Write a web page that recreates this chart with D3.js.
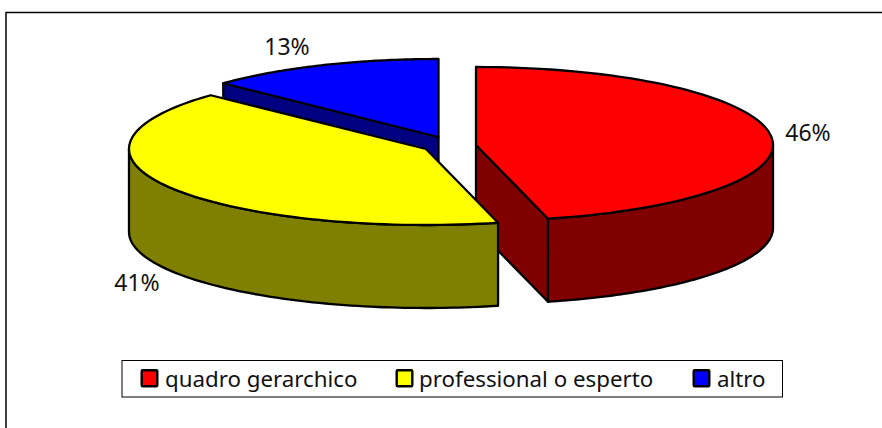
<!DOCTYPE html>
<html>
<head>
<meta charset="utf-8">
<script src="https://cdn.jsdelivr.net/npm/d3@7"></script>
<style>
html, body { margin: 0; padding: 0; background: #fff; }
svg { display: block; }
text { font-family: "Noto Sans", sans-serif; fill: #111; }
</style>
</head>
<body>
<svg width="882" height="428"></svg>
<script>
var categories = ["quadro gerarchico", "professional o esperto", "altro"];
var values = [46.1, 41, 12.9];
var labels = ["46%", "41%", "13%"];
var topColors = ["#ff0000", "#ffff00", "#0000ff"];
var sideColors = ["#800000", "#808000", "#000080"];

var svg = d3.select("svg");

var rx = 297, ryBack = 78, ryFront = 76, depth = 83;
var centers = [[476, 145], [426, 149], [438.5, 137]];
var labelPos = [[808, 141], [137, 291], [287, 55]];
var swatchX = [141.7, 396.7, 693.7], textX = [165, 419, 717];
var drawOrder = [2, 0, 1];

var pie = d3.pie().sort(null)(values);

// the ellipse is a bit flatter in front than behind, like the perspective of the original
function px(i, a) { return centers[i][0] + rx * Math.sin(a); }
function py(i, a) { var c = Math.cos(a); return centers[i][1] - (c > 0 ? ryBack : ryFront) * c; }

function arcPoints(i, a0, a1, dy) {
    var pts = [], n = 80;
    for (var k = 0; k <= n; k++) {
        var a = a0 + (a1 - a0) * k / n;
        pts.push([px(i, a), py(i, a) + dy]);
    }
    return pts;
}

var line = d3.line();

function face(g, d, fill) {
    g.append("path")
        .attr("d", d + "Z")
        .attr("fill", fill)
        .attr("stroke", "#000")
        .attr("stroke-width", 2.3)
        .attr("stroke-linejoin", "round");
}

svg.append("rect")
    .attr("x", 6).attr("y", 12.5)
    .attr("width", 890).attr("height", 430)
    .attr("fill", "#fff").attr("stroke", "#000").attr("stroke-width", 1.5);

drawOrder.forEach(function(i) {
    var s = pie[i], g = svg.append("g");
    var c = centers[i];

    // cut wall facing the viewer
    if (i != 1) {
        var cutAngle = i == 0 ? s.endAngle : s.startAngle;
        var e = [px(i, cutAngle), py(i, cutAngle)];
        face(g, line([c, e, [e[0], e[1] + depth], [c[0], c[1] + depth]]), sideColors[i]);
    }

    // outer wall, front half of the ellipse only
    var a0 = Math.max(s.startAngle, Math.PI / 2), a1 = Math.min(s.endAngle, Math.PI * 1.5);
    if (a1 > a0) {
        face(g, line(arcPoints(i, a0, a1, 0).concat(arcPoints(i, a1, a0, depth))), sideColors[i]);
    }

    // top face
    face(g, line([c].concat(arcPoints(i, s.startAngle, s.endAngle, 0))), topColors[i]);
});

svg.selectAll("text.pct")
    .data(labels)
    .enter().append("text")
    .attr("class", "pct")
    .attr("x", function(d, i) { return labelPos[i][0]; })
    .attr("y", function(d, i) { return labelPos[i][1]; })
    .attr("text-anchor", "middle")
    .attr("font-size", 23)
    .text(function(d) { return d; });

// legend
svg.append("rect")
    .attr("x", 122).attr("y", 360.5)
    .attr("width", 660.5).attr("height", 36.5)
    .attr("fill", "#fff").attr("stroke", "#000").attr("stroke-width", 1);

svg.selectAll("rect.key")
    .data(categories)
    .enter().append("rect")
    .attr("class", "key")
    .attr("x", function(d, i) { return swatchX[i]; })
    .attr("y", 370.3)
    .attr("width", 15.6).attr("height", 16)
    .attr("rx", 1)
    .attr("fill", function(d, i) { return topColors[i]; })
    .attr("stroke", "#000").attr("stroke-width", 2.4);

svg.selectAll("text.key")
    .data(categories)
    .enter().append("text")
    .attr("class", "key")
    .attr("x", function(d, i) { return textX[i]; })
    .attr("y", 387)
    .attr("font-size", 22.3)
    .text(function(d) { return d; });
</script>
</body>
</html>
